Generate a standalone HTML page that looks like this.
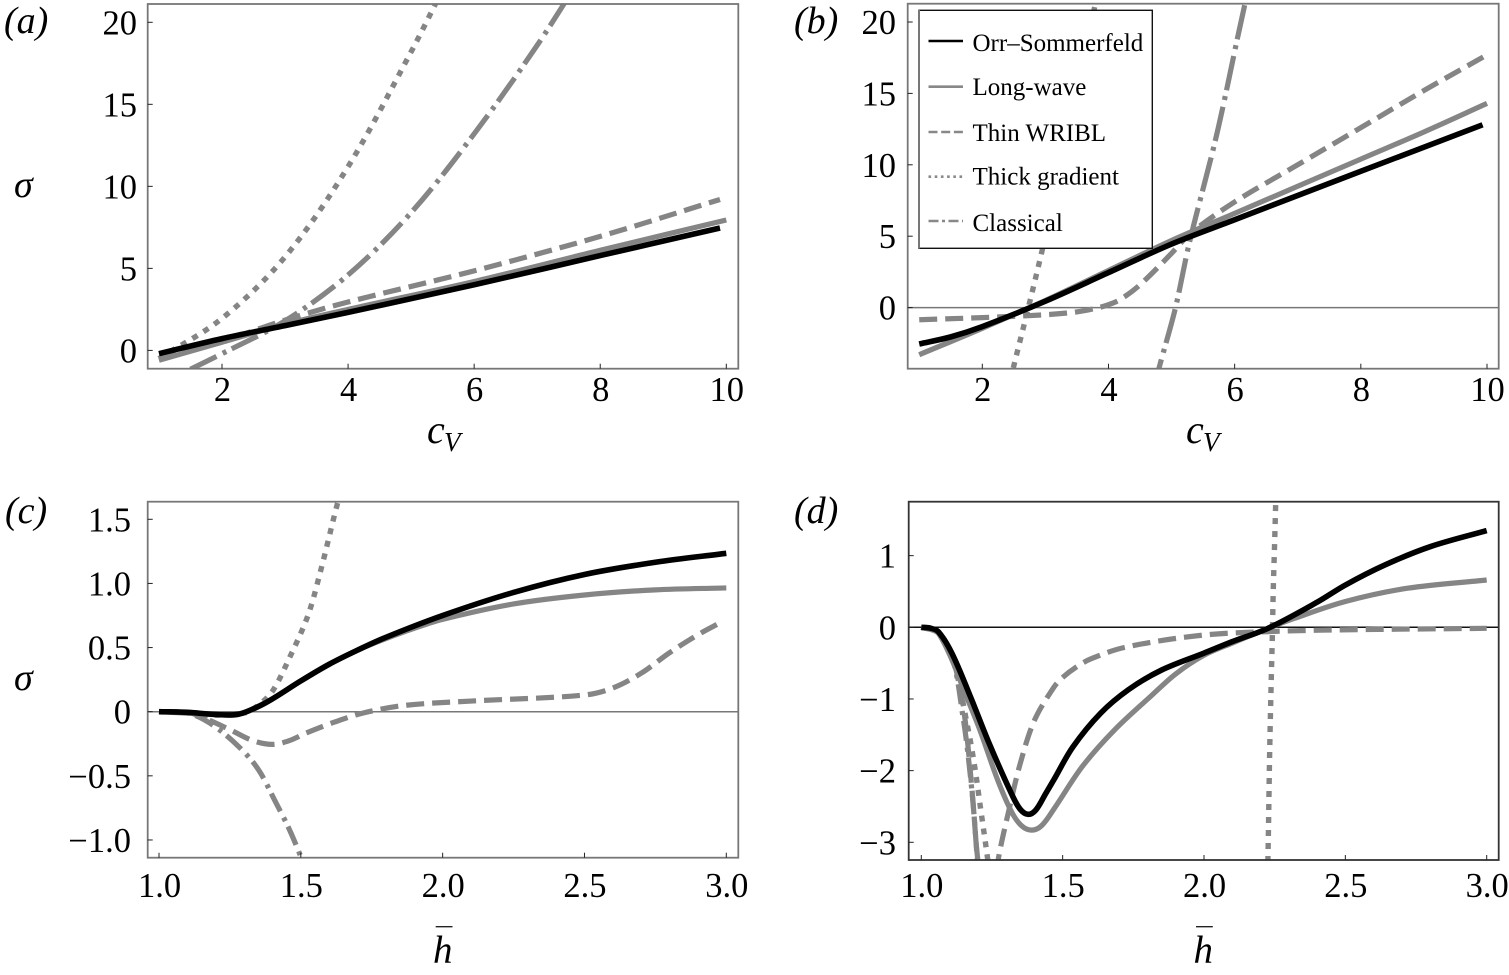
<!DOCTYPE html>
<html lang="en">
<head>
<meta charset="utf-8">
<title>Growth rate comparison</title>
<style>
html,body{margin:0;padding:0;background:#fff;}
svg{display:block;}
text{font-family:"Liberation Serif","DejaVu Serif",serif;fill:#000;}
.it{font-style:italic;}
</style>
</head>
<body>
<svg id="fig" xmlns="http://www.w3.org/2000/svg" width="1509" height="975" viewBox="0 0 1509 975">
  <rect x="0" y="0" width="1509" height="975" fill="#fff"/>
  <g id="panels"></g>

  <text class="it" x="4" y="33" font-size="38">(a)</text>
  <text class="it" x="794" y="33" font-size="38">(b)</text>
  <text class="it" x="5" y="523" font-size="38">(c)</text>
  <text class="it" x="794" y="523" font-size="38">(d)</text>

  <text class="it" x="14" y="197" font-size="38">σ</text>
  <text class="it" x="14" y="690" font-size="38">σ</text>

  <g>
    <text class="it" x="427" y="443" font-size="40">c</text>
    <text class="it" x="444" y="451" font-size="27">V</text>
  </g>
  <g>
    <text class="it" x="1186" y="443" font-size="40">c</text>
    <text class="it" x="1203" y="451" font-size="27">V</text>
  </g>
  <g>
    <line x1="435.7" x2="452.5" y1="926.7" y2="926.7" stroke="#222" stroke-width="1.4"/>
    <text class="it" x="433" y="963" font-size="39">h</text>
  </g>
  <g>
    <line x1="1196" x2="1212.8" y1="926.7" y2="926.7" stroke="#222" stroke-width="1.4"/>
    <text class="it" x="1193.5" y="963" font-size="39">h</text>
  </g>

  <g id="legend">
    <rect x="919" y="10.3" width="233.3" height="238" fill="#fff" stroke="#111" stroke-width="1.4"/>
    <line x1="919" x2="919" y1="10" y2="248.6" stroke="#777" stroke-width="2"/>
    <g>
      <line x1="928.5" x2="963" y1="41" y2="41" stroke="#000" stroke-width="2.6"/>
      <text x="972.5" y="51" font-size="25">Orr–Sommerfeld</text>
    </g>
    <g>
      <line x1="928.5" x2="963" y1="86.7" y2="86.7" stroke="#888" stroke-width="2.6"/>
      <text x="972.5" y="95" font-size="25">Long-wave</text>
    </g>
    <g>
      <line x1="928.5" x2="963" y1="132" y2="132" stroke="#888" stroke-width="2.6" stroke-dasharray="9 3.7"/>
      <text x="972.5" y="141" font-size="25">Thin WRIBL</text>
    </g>
    <g>
      <line x1="928.5" x2="963" y1="176.7" y2="176.7" stroke="#888" stroke-width="2.6" stroke-dasharray="2.6 3.6"/>
      <text x="972.5" y="184.3" font-size="25">Thick gradient</text>
    </g>
    <g>
      <line x1="928.5" x2="963" y1="221" y2="221" stroke="#888" stroke-width="2.6" stroke-dasharray="10 3.5 3 3.5"/>
      <text x="972.5" y="231" font-size="25">Classical</text>
    </g>
  </g>
</svg>

<script>
// ---------- Tick values and labels ----------
const cvTicks = [2, 4, 6, 8, 10];
const cvTickLabels = ['2', '4', '6', '8', '10'];
const hTicks = [1, 1.5, 2, 2.5, 3];
const hTickLabels = ['1.0', '1.5', '2.0', '2.5', '3.0'];
const panelAYTicks = [0, 5, 10, 15, 20];
const panelAYLabels = ['0', '5', '10', '15', '20'];
const panelBYTicks = [0, 5, 10, 15, 20];
const panelBYLabels = ['0', '5', '10', '15', '20'];
const panelCYTicks = [-1, -0.5, 0, 0.5, 1, 1.5];
const panelCYLabels = ['−1.0', '−0.5', '0', '0.5', '1.0', '1.5'];
const panelDYTicks = [-3, -2, -1, 0, 1];
const panelDYLabels = ['−3', '−2', '−1', '0', '1'];

// ---------- Panel (a) ----------
const aOrrX = [1, 2, 3, 4, 6, 8, 9.9];
const aOrrY = [-0.2, 0.72, 1.51, 2.32, 4.0, 5.78, 7.46];
const aLongX = [1, 2, 3, 4, 6, 8, 10];
const aLongY = [-0.6, 0.5, 1.6, 2.5, 4.2, 6.1, 7.95];
const aThinX = [1, 2, 3, 4, 6, 8, 9.9];
const aThinY = [-0.55, 0.55, 1.85, 2.95, 4.85, 6.95, 9.2];
const aThickX = [1, 2, 3, 4, 5, 5.5];
const aThickY = [-0.5, 1.95, 5.7, 11.2, 18.2, 22];
const aClassicalX = [1.5, 2, 3, 4, 5, 6, 7, 7.7];
const aClassicalY = [-1.15, -0.2, 1.8, 4.6, 8.4, 13.2, 18.6, 22.8];

// ---------- Panel (b) ----------
const bOrrX = [1, 1.5, 2, 3, 4, 5, 6, 8, 9.93];
const bOrrY = [-2.55, -2.05, -1.33, 0.45, 2.45, 4.45, 6.15, 9.55, 12.8];
const bLongX = [1, 2, 3, 4, 5, 6, 7, 8, 9, 10];
const bLongY = [-3.3, -1.45, 0.5, 2.6, 4.7, 6.6, 8.5, 10.4, 12.3, 14.3];
const bThinX = [1, 2, 3, 3.5, 3.8, 4, 4.2, 4.5, 5, 5.3, 6, 7, 8, 9, 10];
const bThinY = [-0.85, -0.7, -0.5, -0.3, -0.05, 0.2, 0.6, 1.6, 3.8, 5.2, 7.4, 10.0, 12.6, 15.2, 17.7];
const bThickX = [2.4, 2.49, 2.73, 2.92, 3.4, 3.79, 3.9];
const bThickY = [-6, -4.25, 0, 3.47, 12.6, 21.25, 23.5];
const bClassicalX = [4.7, 4.8, 5.06, 5.28, 5.72, 6.16, 6.3];
const bClassicalY = [-6, -4.25, -0.05, 4.5, 12.2, 21.2, 23.5];

// ---------- Panel (c) ----------
const cOrrX = [1, 1.1, 1.2, 1.28, 1.35, 1.4, 1.5, 1.6, 1.7, 1.8, 2, 2.25, 2.5, 2.75, 3];
const cOrrY = [0, -0.005, -0.022, -0.02, 0.04, 0.1, 0.24, 0.37, 0.48, 0.58, 0.75, 0.93, 1.07, 1.165, 1.235];
const cLongX = [1, 1.2, 1.28, 1.4, 1.5, 1.6, 1.7, 1.8, 1.9, 2, 2.25, 2.5, 2.75, 3];
const cLongY = [0, -0.022, -0.02, 0.1, 0.24, 0.37, 0.48, 0.57, 0.65, 0.72, 0.84, 0.91, 0.95, 0.965];
const cThinX = [1, 1.1, 1.16, 1.25, 1.33, 1.4, 1.46, 1.52, 1.62, 1.72, 1.87, 2.12, 2.5, 2.6, 2.7, 2.8, 2.9, 2.975];
const cThinY = [0, -0.005, -0.05, -0.14, -0.225, -0.255, -0.225, -0.165, -0.08, -0.01, 0.05, 0.085, 0.13, 0.185, 0.3, 0.46, 0.6, 0.69];
const cThickX = [1.15, 1.3, 1.35, 1.4, 1.46, 1.525, 1.57, 1.63, 1.66];
const cThickY = [-0.03, -0.01, 0.05, 0.16, 0.42, 0.75, 1.1, 1.63, 1.85];
const cClassicalX = [1, 1.1, 1.18, 1.28, 1.35, 1.41, 1.46, 1.5, 1.53];
const cClassicalY = [0, -0.01, -0.09, -0.27, -0.45, -0.7, -0.92, -1.13, -1.3];

// ---------- Panel (d) ----------
const dOrrX = [1, 1.03, 1.06, 1.108, 1.174, 1.24, 1.32, 1.35, 1.378, 1.405, 1.44, 1.47, 1.536, 1.634, 1.733, 1.848, 2, 2.1, 2.226, 2.4, 2.5, 2.64, 2.8, 3];
const dOrrY = [0, -0.01, -0.06, -0.36, -0.97, -1.62, -2.33, -2.54, -2.61, -2.55, -2.32, -2.12, -1.67, -1.2, -0.87, -0.6, -0.36, -0.2, -0.015, 0.35, 0.59, 0.87, 1.125, 1.35];
const dLongX = [1, 1.03, 1.06, 1.108, 1.15, 1.207, 1.27, 1.32, 1.355, 1.39, 1.425, 1.47, 1.57, 1.684, 1.815, 1.9, 2, 2.1, 2.226, 2.32, 2.5, 2.72, 3];
const dLongY = [0, -0.01, -0.08, -0.45, -0.87, -1.43, -2.13, -2.58, -2.77, -2.83, -2.77, -2.53, -1.94, -1.43, -0.95, -0.65, -0.39, -0.22, -0.015, 0.125, 0.36, 0.545, 0.66];
const dThinX = [1, 1.06, 1.11, 1.15, 1.18, 1.2, 1.235, 1.273, 1.31, 1.35, 1.4, 1.47, 1.5, 1.55, 1.6, 1.72, 1.98, 2.226, 2.47, 3];
const dThinY = [0, -0.07, -0.42, -1.15, -2.3, -3.25, -4.2, -3.22, -2.55, -1.9, -1.3, -0.83, -0.7, -0.55, -0.44, -0.28, -0.116, -0.06, -0.037, -0.014];
const dThickLeftX = [1, 1.06, 1.11, 1.166, 1.19, 1.208, 1.233, 1.25];
const dThickLeftY = [0, -0.07, -0.42, -1.43, -1.97, -2.48, -3.18, -3.7];
const dThickRightX = [2.22, 2.226, 2.232, 2.237, 2.242, 2.245, 2.25, 2.256];
const dThickRightY = [-4, -3.25, -1.8, -0.875, -0.08, 0.52, 1.2, 2.1];
const dClassicalX = [1, 1.06, 1.11, 1.149, 1.166, 1.184, 1.198, 1.21];
const dClassicalY = [0, -0.08, -0.42, -1.29, -1.8, -2.5, -3.25, -4];

// ---------- Drawing ----------
const SVGNS = 'http://www.w3.org/2000/svg';
const root = document.getElementById('panels');

// Linear axis function through two calibration pairs.
function linearAxis(v0, p0, v1, p1) {
  return function (v) { return p0 + (v - v0) * (p1 - p0) / (v1 - v0); };
}

// Smooth path through the read-off points (non-uniform Catmull-Rom).
function smoothPath(xs, ys, sx, sy) {
  const p = xs.map(function (x, i) { return [sx(x), sy(ys[i])]; });
  let d = 'M' + p[0][0].toFixed(2) + ' ' + p[0][1].toFixed(2);
  const tan = p.map(function (pt, i) {
    const a = p[Math.max(i - 1, 0)], b = p[Math.min(i + 1, p.length - 1)];
    const dx = b[0] - a[0], dy = b[1] - a[1];
    const len = Math.hypot(dx, dy) || 1;
    return [dx / len, dy / len];
  });
  for (let i = 0; i < p.length - 1; i++) {
    const L = Math.hypot(p[i + 1][0] - p[i][0], p[i + 1][1] - p[i][1]) / 3;
    d += ' C' + (p[i][0] + tan[i][0] * L).toFixed(2) + ' ' + (p[i][1] + tan[i][1] * L).toFixed(2) +
         ' ' + (p[i + 1][0] - tan[i + 1][0] * L).toFixed(2) + ' ' + (p[i + 1][1] - tan[i + 1][1] * L).toFixed(2) +
         ' ' + p[i + 1][0].toFixed(2) + ' ' + p[i + 1][1].toFixed(2);
  }
  return d;
}

const STYLES = {
  orr: { stroke: '#000', width: 5.6, dash: '' },
  long: { stroke: '#858585', width: 5.2, dash: '' },
  thin: { stroke: '#858585', width: 5.2, dash: '18 8' },
  thick: { stroke: '#858585', width: 5.4, dash: '6 7' }
};

function drawPanel(cfg) {
  const g = document.createElementNS(SVGNS, 'g');
  
  
  root.appendChild(g);

  const f = cfg.frame;
  const clipId = 'clip-' + cfg.id;
  const defs = document.createElementNS(SVGNS, 'defs');
  const clip = document.createElementNS(SVGNS, 'clipPath');
  clip.setAttribute('id', clipId);
  const clipRect = document.createElementNS(SVGNS, 'rect');
  clipRect.setAttribute('x', f.x0);
  clipRect.setAttribute('y', f.y0);
  clipRect.setAttribute('width', f.x1 - f.x0);
  clipRect.setAttribute('height', f.y1 - f.y0);
  clip.appendChild(clipRect);
  defs.appendChild(clip);
  g.appendChild(defs);

  if (cfg.zeroColor) {
    const zero = document.createElementNS(SVGNS, 'line');
    
    
    zero.setAttribute('x1', f.x0);
    zero.setAttribute('x2', f.x1);
    zero.setAttribute('y1', cfg.sy(0));
    zero.setAttribute('y2', cfg.sy(0));
    zero.setAttribute('stroke', cfg.zeroColor);
    zero.setAttribute('stroke-width', '1.5');
    g.appendChild(zero);
  }

  const seriesGroup = document.createElementNS(SVGNS, 'g');
  seriesGroup.setAttribute('clip-path', 'url(#' + clipId + ')');
  
  
  g.appendChild(seriesGroup);
  cfg.series.forEach(function (s) {
    const st = STYLES[s.kind] || { stroke: '#858585', width: 5.2, dash: cfg.classicalDash };
    const path = document.createElementNS(SVGNS, 'path');
    
    
    path.setAttribute('d', smoothPath(s.x, s.y, cfg.sx, cfg.sy));
    path.setAttribute('fill', 'none');
    path.setAttribute('stroke', st.stroke);
    path.setAttribute('stroke-width', st.width);
    if (st.dash) path.setAttribute('stroke-dasharray', st.dash);
    seriesGroup.appendChild(path);
  });

  const border = document.createElementNS(SVGNS, 'rect');
  
  
  border.setAttribute('x', f.x0);
  border.setAttribute('y', f.y0);
  border.setAttribute('width', f.x1 - f.x0);
  border.setAttribute('height', f.y1 - f.y0);
  border.setAttribute('fill', 'none');
  border.setAttribute('stroke', cfg.frameColor);
  border.setAttribute('stroke-width', '1.8');
  g.appendChild(border);

  cfg.xTicks.forEach(function (v, i) {
    const px = cfg.sx(v);
    const tick = document.createElementNS(SVGNS, 'line');
    
    
    tick.setAttribute('x1', px);
    tick.setAttribute('x2', px);
    tick.setAttribute('y1', f.y1);
    tick.setAttribute('y2', f.y1 - 5);
    tick.setAttribute('stroke', '#222');
    tick.setAttribute('stroke-width', '1');
    g.appendChild(tick);
    const label = document.createElementNS(SVGNS, 'text');
    
    
    label.setAttribute('x', px + 0.5);
    label.setAttribute('y', cfg.xLabelY);
    label.setAttribute('font-size', '34.5');
    label.setAttribute('text-anchor', 'middle');
    label.textContent = cfg.xLabels[i];
    g.appendChild(label);
  });

  cfg.yTicks.forEach(function (v, i) {
    const py = cfg.sy(v);
    const tick = document.createElementNS(SVGNS, 'line');
    
    
    tick.setAttribute('x1', f.x0);
    tick.setAttribute('x2', f.x0 + 5);
    tick.setAttribute('y1', py);
    tick.setAttribute('y2', py);
    tick.setAttribute('stroke', '#222');
    tick.setAttribute('stroke-width', '1');
    g.appendChild(tick);
    const label = document.createElementNS(SVGNS, 'text');
    
    
    label.setAttribute('x', cfg.yLabelX);
    label.setAttribute('y', py + 12);
    label.setAttribute('font-size', '34.5');
    label.setAttribute('text-anchor', 'end');
    label.textContent = cfg.yLabels[i];
    g.appendChild(label);
  });
}

drawPanel({
  id: 'a',
  frame: { x0: 147.7, y0: 4, x1: 738.3, y1: 368.7 },
  frameColor: '#777',
  zeroColor: null,
  classicalDash: '29 7 4 6',
  sx: linearAxis(2, 222, 10, 726.3),
  sy: linearAxis(0, 350.4, 20, 22.3),
  xTicks: cvTicks, xLabels: cvTickLabels, xLabelY: 401,
  yTicks: panelAYTicks, yLabels: panelAYLabels, yLabelX: 137,
  series: [
    { name: 'classical', kind: 'classical', x: aClassicalX, y: aClassicalY },
    { name: 'thick-gradient', kind: 'thick', x: aThickX, y: aThickY },
    { name: 'long-wave', kind: 'long', x: aLongX, y: aLongY },
    { name: 'thin-wribl', kind: 'thin', x: aThinX, y: aThinY },
    { name: 'orr-sommerfeld', kind: 'orr', x: aOrrX, y: aOrrY }
  ]
});

drawPanel({
  id: 'b',
  frame: { x0: 907.7, y0: 3.7, x1: 1498.7, y1: 368.7 },
  frameColor: '#777',
  zeroColor: '#777',
  classicalDash: '35 7 4 6',
  sx: linearAxis(2, 982.3, 10, 1487),
  sy: linearAxis(0, 307.6, 20, 22),
  xTicks: cvTicks, xLabels: cvTickLabels, xLabelY: 401,
  yTicks: panelBYTicks, yLabels: panelBYLabels, yLabelX: 896,
  series: [
    { name: 'classical', kind: 'classical', x: bClassicalX, y: bClassicalY },
    { name: 'thick-gradient', kind: 'thick', x: bThickX, y: bThickY },
    { name: 'thin-wribl', kind: 'thin', x: bThinX, y: bThinY },
    { name: 'long-wave', kind: 'long', x: bLongX, y: bLongY },
    { name: 'orr-sommerfeld', kind: 'orr', x: bOrrX, y: bOrrY }
  ]
});

drawPanel({
  id: 'c',
  frame: { x0: 147.7, y0: 501.7, x1: 738.3, y1: 857.7 },
  frameColor: '#777',
  zeroColor: '#777',
  classicalDash: '20 7 4 6',
  sx: linearAxis(1, 159, 3, 726.3),
  sy: linearAxis(0, 711.7, 1.5, 519.3),
  xTicks: hTicks, xLabels: hTickLabels, xLabelY: 897,
  yTicks: panelCYTicks, yLabels: panelCYLabels, yLabelX: 131,
  series: [
    { name: 'classical', kind: 'classical', x: cClassicalX, y: cClassicalY },
    { name: 'thick-gradient', kind: 'thick', x: cThickX, y: cThickY },
    { name: 'thin-wribl', kind: 'thin', x: cThinX, y: cThinY },
    { name: 'long-wave', kind: 'long', x: cLongX, y: cLongY },
    { name: 'orr-sommerfeld', kind: 'orr', x: cOrrX, y: cOrrY }
  ]
});

drawPanel({
  id: 'd',
  frame: { x0: 908.7, y0: 501.7, x1: 1498.7, y1: 860 },
  frameColor: '#333',
  zeroColor: '#111',
  classicalDash: '20 7 4 6',
  sx: linearAxis(1, 921.3, 3, 1486.7),
  sy: linearAxis(0, 627.3, -3, 842.3),
  xTicks: hTicks, xLabels: hTickLabels, xLabelY: 897,
  yTicks: panelDYTicks, yLabels: panelDYLabels, yLabelX: 896,
  series: [
    { name: 'classical', kind: 'classical', x: dClassicalX, y: dClassicalY },
    { name: 'thick-gradient-left', kind: 'thick', x: dThickLeftX, y: dThickLeftY },
    { name: 'thick-gradient-right', kind: 'thick', x: dThickRightX, y: dThickRightY },
    { name: 'thin-wribl', kind: 'thin', x: dThinX, y: dThinY },
    { name: 'long-wave', kind: 'long', x: dLongX, y: dLongY },
    { name: 'orr-sommerfeld', kind: 'orr', x: dOrrX, y: dOrrY }
  ]
});
</script>
</body>
</html>
